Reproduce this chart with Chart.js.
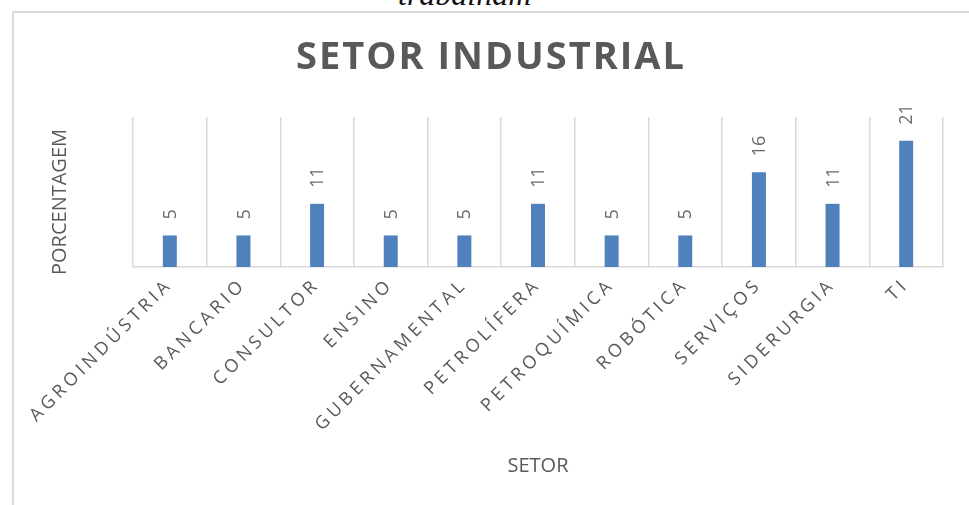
<!DOCTYPE html>
<html>
<head>
<meta charset="utf-8">
<script src="https://cdn.jsdelivr.net/npm/chart.js@4.4.0/dist/chart.umd.min.js"></script>
<style>
  html, body { margin: 0; padding: 0; background: #fff; overflow: hidden; }
  #wrap { position: relative; width: 969px; height: 505px; }
  #frame { position: absolute; left: 12px; top: 11px; width: 1000px; height: 600px;
           border-left: 2px solid #dadada; border-top: 2px solid #dadada; }
  #above { position: absolute; left: 398px; top: -22px; font: italic 32px/32px "Liberation Serif", serif; color: #111; }
  canvas { position: absolute; left: 0; top: 0; }
</style>
</head>
<body>
<div id="wrap">
  <div id="above">trabalham</div>
  <div id="frame"></div>
  <canvas id="setorChart" width="969" height="505"></canvas>
</div>
<script>
// Data
const sectors = ['AGROINDÚSTRIA', 'BANCARIO', 'CONSULTOR', 'ENSINO', 'GUBERNAMENTAL', 'PETROLÍFERA',
  'PETROQUÍMICA', 'ROBÓTICA', 'SERVIÇOS', 'SIDERURGIA', 'TI'];
const percentages = [5.26, 5.26, 10.53, 5.26, 5.26, 10.53, 5.26, 5.26, 15.79, 10.53, 21.05];
const chartTitle = 'SETOR INDUSTRIAL';
const xTitle = 'SETOR';
const yTitle = 'PORCENTAGEM';

const grey = '#595959';
Chart.defaults.font.family = '"Open Sans", sans-serif';
Chart.defaults.color = grey;

// category axis whose labels are letter-spaced
class SpacedCategoryScale extends Chart.CategoryScale {
  drawLabels(area) {
    const ctx = this.ctx;
    ctx.save();
    ctx.letterSpacing = '4px';
    super.drawLabels(area);
    ctx.restore();
  }
}
SpacedCategoryScale.id = 'spacedCategory';
SpacedCategoryScale.defaults = Chart.CategoryScale.defaults;

// value axis whose title sits a little lower, like Excel
class LowTitleLinearScale extends Chart.LinearScale {
  drawTitle() {
    const ctx = this.ctx;
    ctx.save();
    ctx.translate(0, 10);
    super.drawTitle();
    ctx.restore();
  }
}
LowTitleLinearScale.id = 'lowTitleLinear';
LowTitleLinearScale.defaults = Chart.LinearScale.defaults;
Chart.register(SpacedCategoryScale, LowTitleLinearScale);

// value labels above bars, rotated
const barLabels = {
  id: 'barLabels',
  afterDatasetsDraw(chart) {
    const ctx = chart.ctx;
    const meta = chart.getDatasetMeta(0);
    ctx.save();
    ctx.font = '18px "Open Sans", sans-serif';
    ctx.fillStyle = '#6b6b6b';
    ctx.textAlign = 'left';
    ctx.textBaseline = 'middle';
    meta.data.forEach((bar, i) => {
      ctx.save();
      ctx.translate(bar.x + 1, bar.y - 16);
      ctx.rotate(-Math.PI / 2);
      ctx.fillText(String(Math.round(percentages[i])), 0, 0);
      ctx.restore();
    });
    ctx.restore();
  }
};

// spaced bold title
const spacedTitle = {
  id: 'spacedTitle',
  afterDraw(chart) {
    const ctx = chart.ctx;
    ctx.save();
    ctx.font = 'bold 38px "Open Sans", sans-serif';
    ctx.letterSpacing = '2px';
    ctx.fillStyle = grey;
    ctx.textAlign = 'center';
    ctx.textBaseline = 'middle';
    ctx.fillText(chartTitle, 491, 58);
    ctx.restore();
  }
};

new Chart(document.getElementById('setorChart'), {
  type: 'bar',
  data: {
    labels: sectors,
    datasets: [{
      data: percentages,
      backgroundColor: '#4f81bd',
      barPercentage: 0.19,
      categoryPercentage: 1
    }]
  },
  options: {
    responsive: false,
    animation: false,
    devicePixelRatio: 1,
    layout: { padding: { top: 117, right: 26, bottom: 0, left: 0 } },
    plugins: { legend: { display: false }, tooltip: { enabled: false } },
    scales: {
      x: {
        type: 'spacedCategory',
        offset: true,
        grid: { color: '#d9d9d9', lineWidth: 1.5, drawTicks: false, offset: true },
        border: { color: '#d9d9d9', width: 1.5 },
        ticks: { autoSkip: false, minRotation: 45, maxRotation: 45, padding: 7,
                 font: { size: 18 }, color: grey },
        title: { display: true, text: xTitle, font: { size: 20 }, color: grey,
                 padding: { top: 0, bottom: 27 } },
        afterFit(scale) { scale.height = 238; }
      },
      y: {
        type: 'lowTitleLinear',
        min: 0,
        max: 25,
        grid: { display: false },
        border: { display: false },
        ticks: { display: false },
        title: { display: true, text: yTitle, font: { size: 20 }, color: grey,
                 padding: { top: 48, bottom: 0 } },
        afterFit(scale) { scale.width = 133; }
      }
    }
  },
  plugins: [barLabels, spacedTitle]
});
</script>
</body>
</html>
